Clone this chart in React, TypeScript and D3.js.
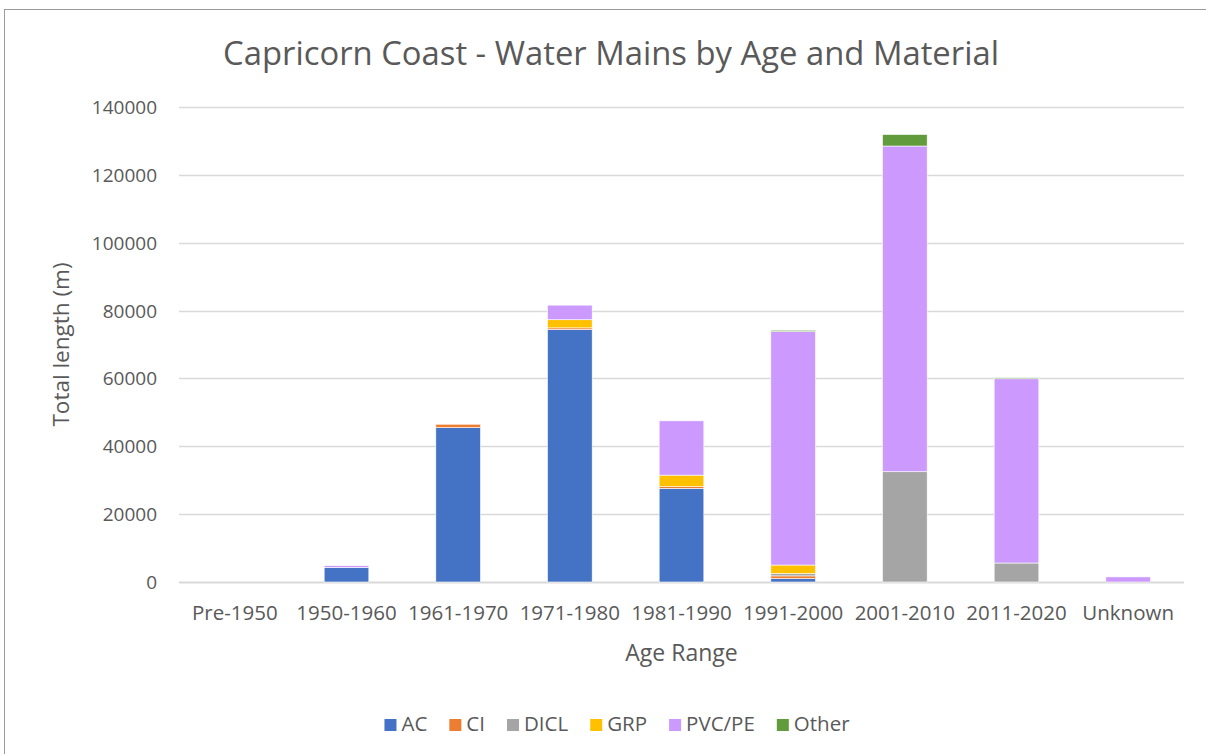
import React, { useEffect, useRef } from "react"
import * as d3 from "d3"

const categories = [
    "Pre-1950",
    "1950-1960",
    "1961-1970",
    "1971-1980",
    "1981-1990",
    "1991-2000",
    "2001-2010",
    "2011-2020",
    "Unknown",
]
const seriesNames = ["AC", "CI", "DICL", "GRP", "PVC/PE", "Other"]
const seriesColors = ["#4472C4", "#ED7D31", "#A5A5A5", "#FFC000", "#CC99FF", "#629B3C"]

// values per series, one per category (metres)
const acValues = [0, 4300, 45500, 74400, 27600, 1000, 0, 0, 0]
const ciValues = [0, 0, 1000, 500, 500, 800, 0, 0, 0]
const diclValues = [0, 0, 0, 0, 0, 700, 32500, 5600, 0]
const grpValues = [0, 0, 0, 2400, 3400, 2500, 0, 0, 0]
const pvcValues = [0, 500, 0, 4300, 16000, 68800, 96000, 54300, 1500]
const otherValues = [0, 0, 0, 0, 0, 400, 3400, 300, 0]

const yTicks = [0, 20000, 40000, 60000, 80000, 100000, 120000, 140000]

const FONT = "'Open Sans', Lato, sans-serif"
const TEXT = "#595959"

const App = () => {
    const ref = useRef<SVGSVGElement | null>(null)

    useEffect(() => {
        if (!ref.current) return
        const svg = d3.select(ref.current)
        svg.selectAll("*").remove()

        const W = 1206
        const H = 754
        const left = 179
        const right = 1184
        const top = 107
        const bottom = 582

        const seriesValues = [acValues, ciValues, diclValues, grpValues, pvcValues, otherValues]
        const rows = categories.map((c, i) => {
            const row: any = { cat: c }
            seriesNames.forEach((s, j) => (row[s] = seriesValues[j][i]))
            return row
        })
        const stacked = d3.stack().keys(seriesNames)(rows)

        const x = d3.scaleBand().domain(categories).range([left, right]).paddingInner(0.6).paddingOuter(0.3)
        const y = d3.scaleLinear().domain([0, 140000]).range([bottom, top])

        svg.append("rect")
            .attr("width", W)
            .attr("height", H)
            .attr("fill", "#fff")

        svg.append("rect")
            .attr("x", 4.5)
            .attr("y", 9.5)
            .attr("width", W + 20)
            .attr("height", H + 20)
            .attr("fill", "none")
            .attr("stroke", "#9a9a9a")
            .attr("stroke-width", 1)

        svg.append("text")
            .attr("x", 611)
            .attr("y", 65)
            .attr("text-anchor", "middle")
            .attr("font-family", FONT)
            .attr("font-size", 32.8)
            .attr("fill", TEXT)
            .text("Capricorn Coast - Water Mains by Age and Material")

        // gridlines
        svg.append("g")
            .selectAll("line")
            .data(yTicks)
            .enter()
            .append("line")
            .attr("x1", left)
            .attr("x2", right)
            .attr("y1", (d) => Math.round(y(d)) + 0.5)
            .attr("y2", (d) => Math.round(y(d)) + 0.5)
            .attr("stroke", "#d9d9d9")
            .attr("stroke-width", (d) => (d === 0 ? 2 : 1.5))

        svg.append("g")
            .selectAll("text")
            .data(yTicks)
            .enter()
            .append("text")
            .attr("x", 157)
            .attr("y", (d) => y(d) + 7)
            .attr("text-anchor", "end")
            .attr("font-family", FONT)
            .attr("font-size", 19)
            .attr("fill", TEXT)
            .text((d) => String(d))

        // bars
        svg.append("g")
            .selectAll("g")
            .data(stacked)
            .enter()
            .append("g")
            .attr("fill", (d, i) => seriesColors[i])
            .selectAll("rect")
            .data((d) => d.filter((p) => p[1] - p[0] > 0))
            .enter()
            .append("rect")
            .attr("x", (p: any) => x(p.data.cat) as number)
            .attr("width", x.bandwidth())
            .attr("y", (p) => y(p[1]))
            .attr("height", (p) => y(p[0]) - y(p[1]))
            .attr("stroke", "#fff")
            .attr("stroke-width", 0.6)

        // category labels
        svg.append("g")
            .selectAll("text")
            .data(categories)
            .enter()
            .append("text")
            .attr("x", (d) => (x(d) as number) + x.bandwidth() / 2)
            .attr("y", 620)
            .attr("text-anchor", "middle")
            .attr("font-family", FONT)
            .attr("font-size", 20.5)
            .attr("fill", TEXT)
            .text((d) => d)

        svg.append("text")
            .attr("x", (left + right) / 2)
            .attr("y", 661)
            .attr("text-anchor", "middle")
            .attr("font-family", FONT)
            .attr("font-size", 23)
            .attr("fill", TEXT)
            .text("Age Range")

        svg.append("text")
            .attr("transform", "translate(69," + (top + bottom) / 2 + ") rotate(-90)")
            .attr("text-anchor", "middle")
            .attr("font-family", FONT)
            .attr("font-size", 22.5)
            .attr("fill", TEXT)
            .text("Total length (m)")

        // legend
        const legend = svg.append("g")
        const items = legend
            .selectAll("g")
            .data(seriesNames)
            .enter()
            .append("g")
        items.append("rect")
            .attr("y", 719)
            .attr("width", 12)
            .attr("height", 12)
            .attr("fill", (d, i) => seriesColors[i])
        items.append("text")
            .attr("x", 17)
            .attr("y", 731)
            .attr("font-family", FONT)
            .attr("font-size", 20.5)
            .attr("fill", TEXT)
            .text((d) => d)
        const widths: number[] = []
        items.each(function () {
            const t = d3.select(this).select("text").node() as SVGTextElement
            widths.push(17 + t.getComputedTextLength())
        })
        const gap = 22
        const total = d3.sum(widths) + gap * (widths.length - 1)
        let cx = 617 - total / 2
        items.attr("transform", (d, i) => {
            const t = "translate(" + cx + ",0)"
            cx += widths[i] + gap
            return t
        })
    }, [])

    return (
        <svg
            ref={ref}
            width={1206}
            height={754}
            style={{ position: "absolute", left: 0, top: 0 }}
        />
    )
}

export default App
